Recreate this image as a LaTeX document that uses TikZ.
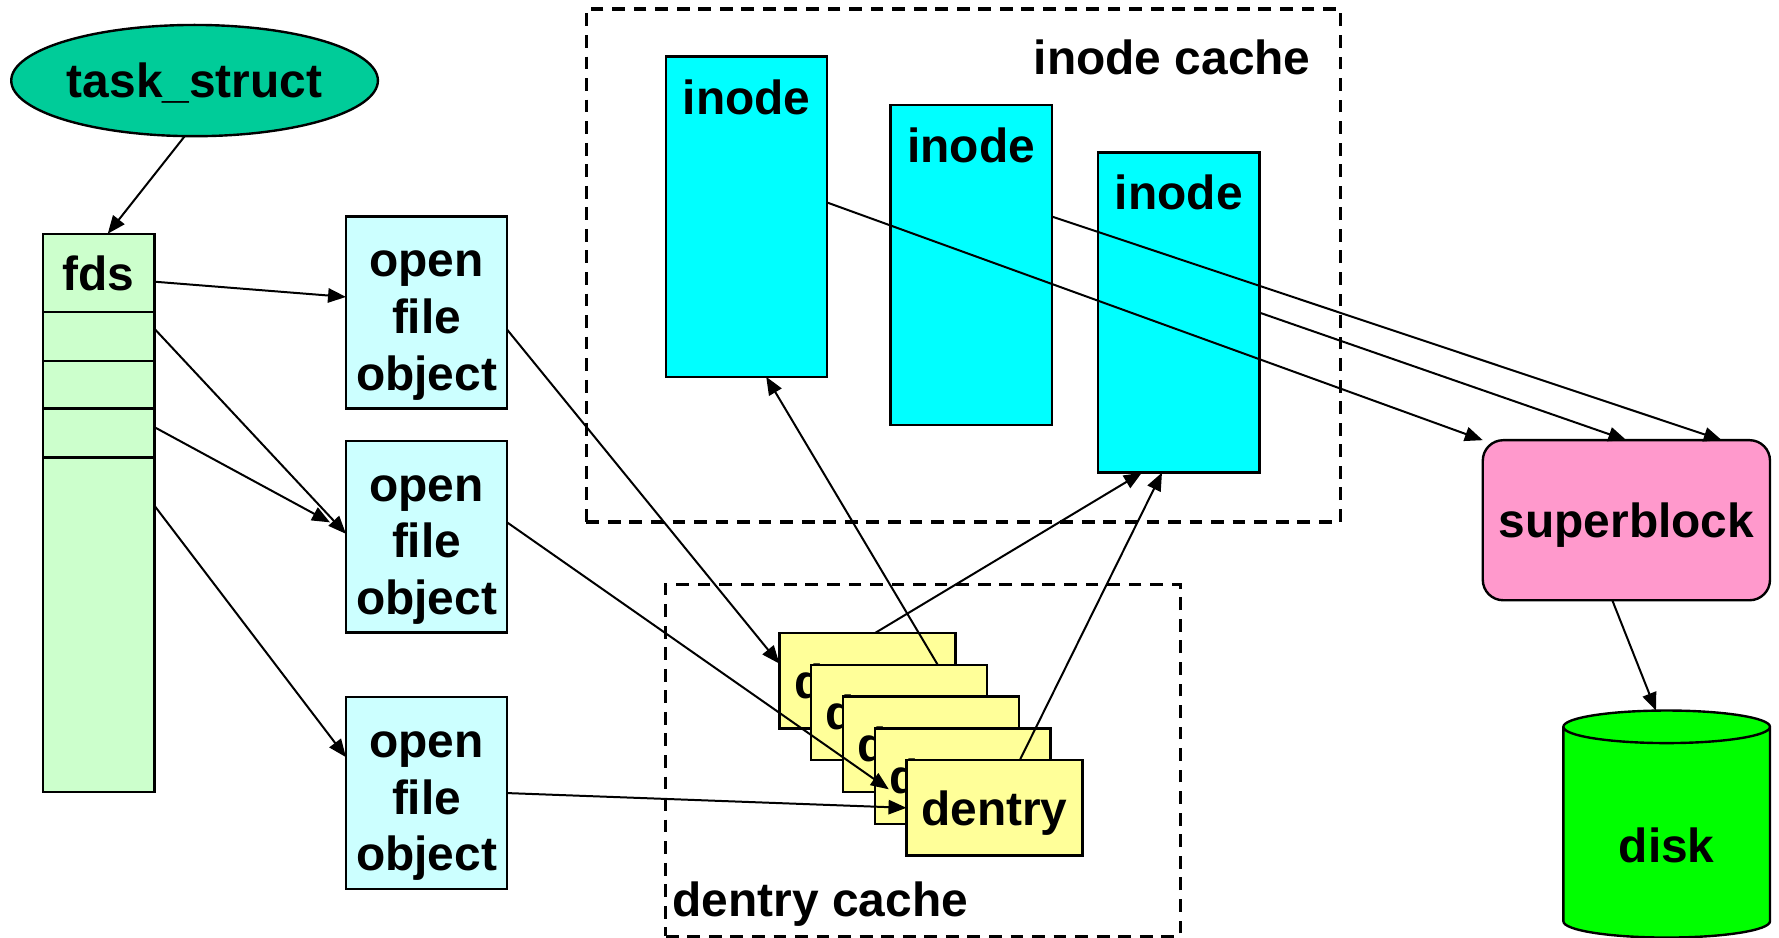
\documentclass[tikz,border=0pt]{standalone}
\usepackage{fontspec}
\setmainfont{Liberation Sans}
\usepackage{tikz}
\usetikzlibrary{arrows.meta,positioning,shapes.geometric}
\definecolor{taskfill}{HTML}{00CC99}
\definecolor{fdfill}{HTML}{CCFFCC}
\definecolor{filefill}{HTML}{CCFFFF}
\definecolor{inodefill}{HTML}{00FFFF}
\definecolor{dentfill}{HTML}{FFFF99}
\definecolor{sbfill}{HTML}{FF99CC}
\definecolor{diskfill}{HTML}{00FF00}

\begin{document}
\begin{tikzpicture}[x=0.01cm, y=-0.01cm, every node/.style={font=\fontsize{12}{14.2}\selectfont\bfseries, align=center, inner sep=0pt, outer sep=0pt, text depth=0pt},
  cell/.style={draw, line width=0.6pt, fill=fdfill, minimum width=0.98cm},
  filebox/.style={draw, line width=0.6pt, fill=filefill, minimum width=1.42cm, minimum height=1.69cm},
  inodebox/.style={draw, line width=0.6pt, fill=inodefill, minimum width=1.42cm, minimum height=2.82cm, label={[anchor=north, yshift=-0.2cm]north:inode}},
  dentbox/.style={draw, line width=0.6pt, fill=dentfill, minimum width=1.55cm, minimum height=0.84cm},
  cachebox/.style={draw, line width=0.8pt, dash pattern=on 3.2pt off 2.2pt},
  ptr/.style={-{Triangle[length=4.5pt, width=3.6pt]}, line width=0.5pt}]
\useasboundingbox (0,0) rectangle (1568,826);
% caches
\node[cachebox, minimum width=6.64cm, minimum height=4.52cm, label={[anchor=north east, xshift=-0.26cm, yshift=-0.27cm]north east:inode cache}] (icache) at (849,234) {};
\node[cachebox, minimum width=4.53cm, minimum height=3.10cm, label={[anchor=base west, xshift=0.06cm, yshift=0.17cm]south west:dentry cache}] (dcache) at (813.5,670) {};
% process side
\node[ellipse, draw, line width=0.6pt, fill=taskfill, minimum width=3.23cm, minimum height=0.98cm] (task) at (171.5,71) {task\_struct};
\node[cell, minimum height=0.69cm] (fds) at (87,240.5) {fds};
\node[cell, minimum height=0.43cm, below=0pt of fds] (fd1) {};
\node[cell, minimum height=0.42cm, below=0pt of fd1] (fd2) {};
\node[cell, minimum height=0.43cm, below=0pt of fd2] (fd3) {};
\node[cell, minimum height=2.95cm, below=0pt of fd3] (fdrest) {};
\node[filebox] (ofo1) at (376,275.5) {\rule{0pt}{0.37cm}open\\file\\object};
\node[filebox] (ofo2) at (376,473) {\rule{0pt}{0.37cm}open\\file\\object};
\node[filebox] (ofo3) at (376,699) {\rule{0pt}{0.37cm}open\\file\\object};
% inodes
\node[inodebox] (inode1) at (658,191) {};
\node[inodebox] (inode2) at (856,233.5) {};
\node[inodebox] (inode3) at (1039,275.5) {};
% dentries
\node[dentbox] (d1) at (764.5,600) {dentry};
\node[dentbox] (d2) at (792.5,628) {dentry};
\node[dentbox] (d3) at (820.5,656) {dentry};
\node[dentbox] (d4) at (848.5,684) {dentry};
\node[dentbox] (d5) at (876.5,712) {dentry};
% fs side
\node[draw, line width=0.6pt, fill=sbfill, rounded corners=0.18cm, minimum width=2.53cm, minimum height=1.41cm] (sb) at (1433.5,458.5) {superblock};
\node[cylinder, shape border rotate=90, aspect=0.34, draw, line width=0.6pt, fill=diskfill, minimum width=1.82cm, minimum height=2cm, text height=0.52cm] (disk) at (1469,734) {disk};
% pointers
\draw[ptr] (task.-100) -- (fds.77);
\draw[ptr] (fds.-9) -- (ofo1.169);
\draw[ptr] (fd1.8) -- (ofo2.178);
\draw[ptr, shorten >=0.16cm] (fd3.6) -- (ofo2.176);
\draw[ptr] (fdrest.65) -- (ofo3.156);
\draw[ptr] (ofo1.-12) -- (d1.169);
\draw[ptr, shorten >=0.19cm] (ofo2.10) -- (d5.176);
\draw[ptr] (ofo3.east) -- (d5.west);
\draw[ptr] (d1.81) -- (inode3.-103);
\draw[ptr] (d2.51) -- (inode1.-83);
\draw[ptr] (d5.62) -- (inode3.-96);
\draw[ptr] (inode1.10) -- (sb.north west);
\draw[ptr] (inode2.31) -- (sb.40);
\draw[ptr] (inode3.east) -- (sb.north);
\draw[ptr] (sb.-100) -- (disk.95);
\end{tikzpicture}
\end{document}
